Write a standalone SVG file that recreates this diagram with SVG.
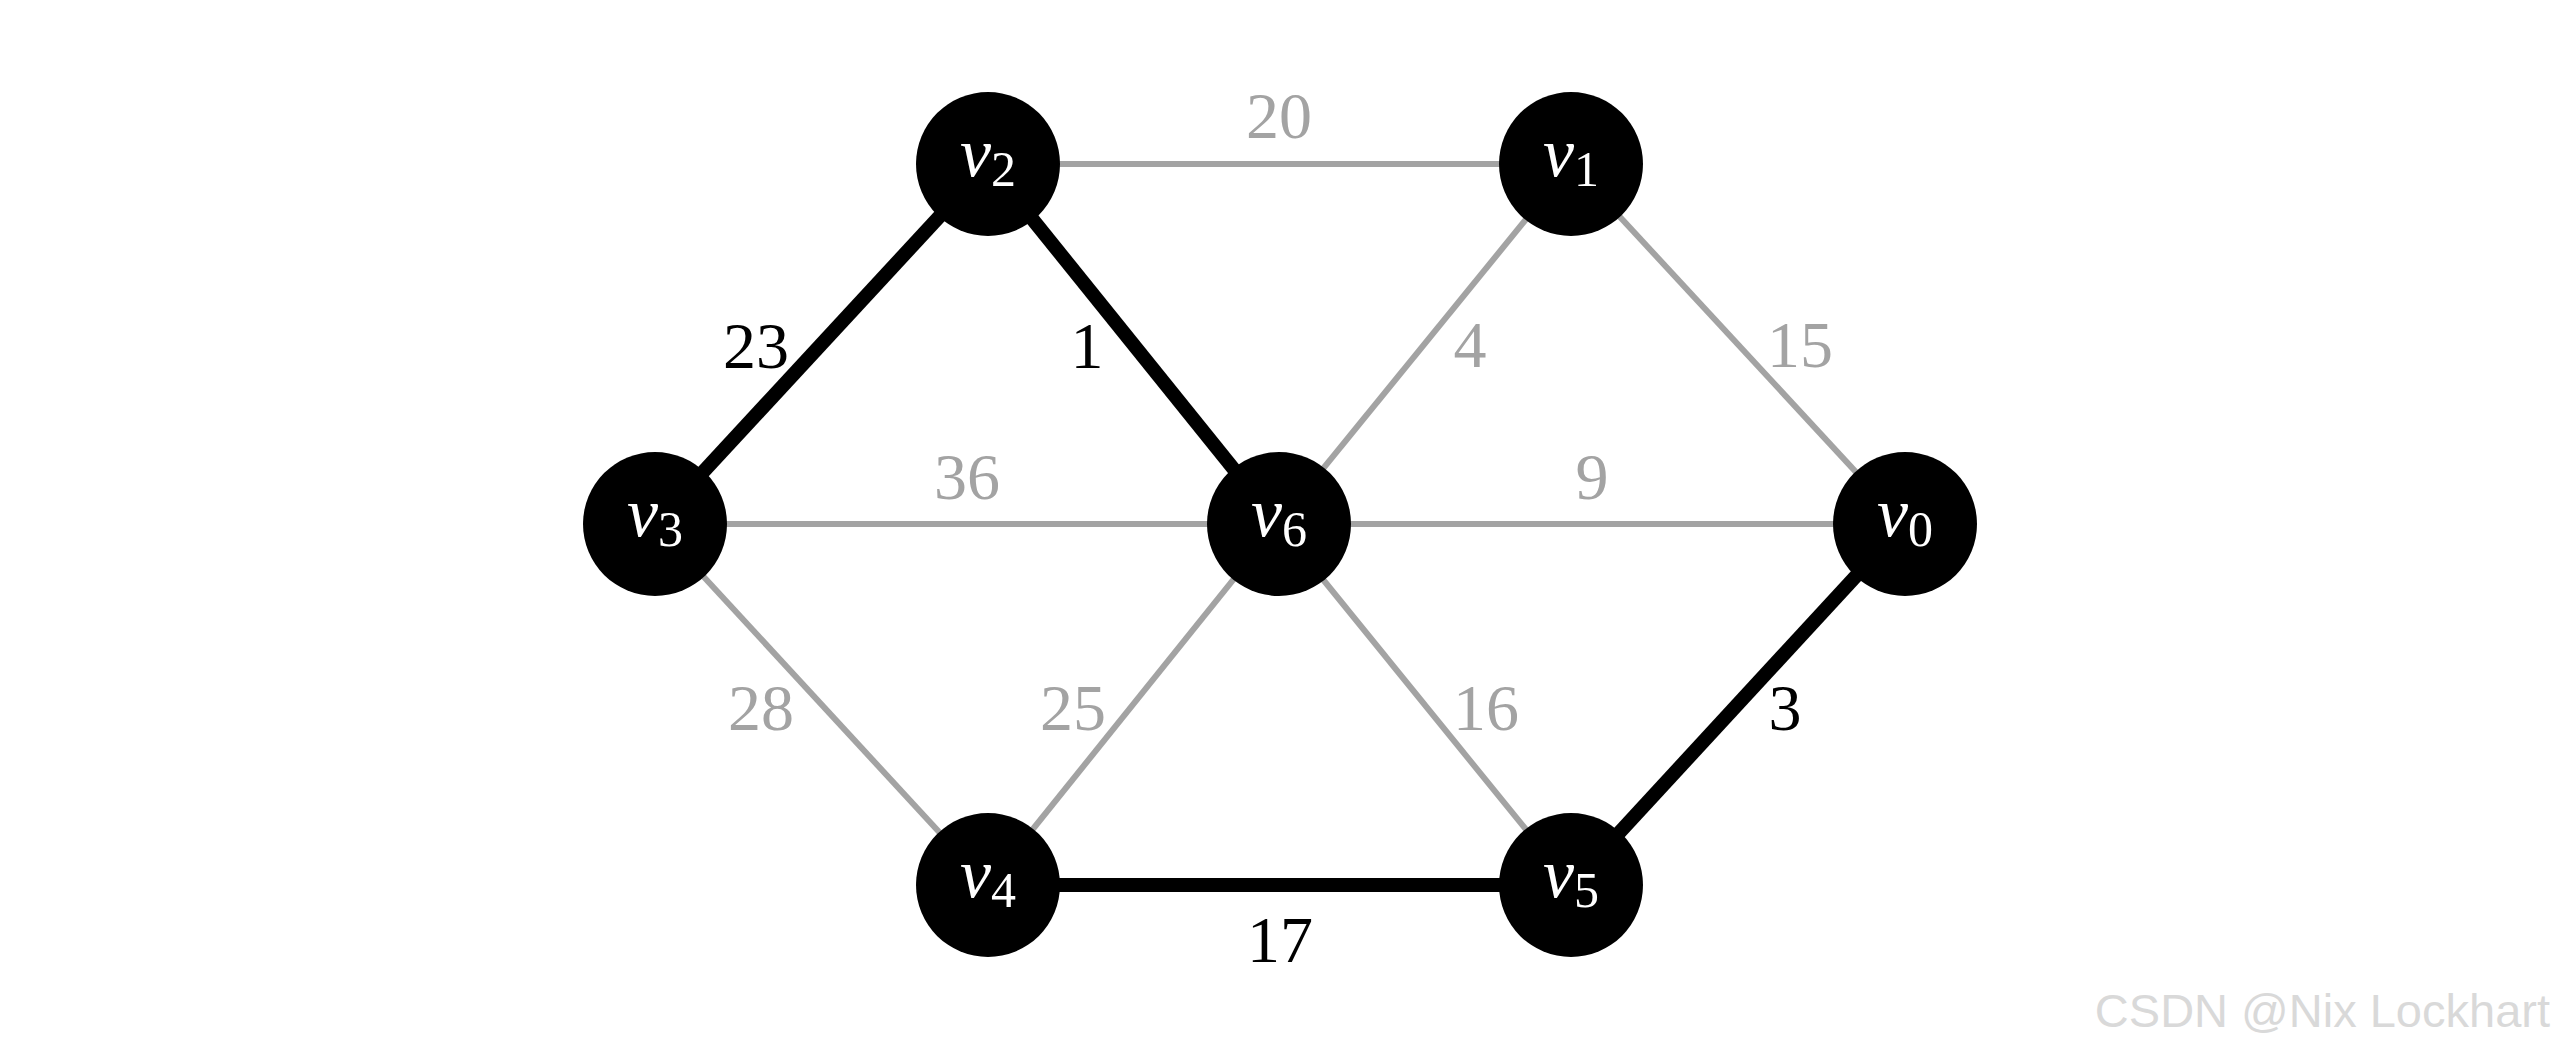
<svg xmlns="http://www.w3.org/2000/svg" width="2560" height="1053" viewBox="0 0 2560 1053">
<style>
.g{stroke:#a3a3a3;stroke-width:6;fill:none}
.b{stroke:#000;stroke-width:14;fill:none}
.node{fill:#000}
.nl{font-family:"Liberation Serif","DejaVu Serif",serif;font-size:70px;fill:#fff;text-anchor:middle}
.nl .v{font-style:italic}
.nl .s{font-size:50px}
.el{font-family:"Liberation Serif","DejaVu Serif",serif;font-size:66px;text-anchor:middle}
.lg{fill:#a3a3a3}
.lb{fill:#000}
</style>
<rect width="2560" height="1053" fill="#fff"/>
<g id="connectors">
<line class="g" x1="988" y1="164" x2="1571" y2="164"/>
<line class="b" x1="988" y1="164" x2="655" y2="524"/>
<line class="b" x1="988" y1="164" x2="1278" y2="524"/>
<line class="g" x1="1571" y1="164" x2="1278" y2="524"/>
<line class="g" x1="1571" y1="164" x2="1904" y2="524"/>
<line class="g" x1="655" y1="524" x2="1278" y2="524"/>
<line class="g" x1="1278" y1="524" x2="1904" y2="524"/>
<line class="g" x1="655" y1="524" x2="988" y2="885"/>
<line class="g" x1="988" y1="885" x2="1278" y2="524"/>
<line class="g" x1="1278" y1="524" x2="1571" y2="885"/>
<line class="b" x1="988" y1="885" x2="1571" y2="885"/>
<line class="b" x1="1571" y1="885" x2="1904" y2="524"/>
<text class="el lg" x="1279" y="138">20</text>
<text class="el lb" x="756" y="368">23</text>
<text class="el lb" x="1087" y="368">1</text>
<text class="el lg" x="1470" y="367">4</text>
<text class="el lg" x="1800" y="367">15</text>
<text class="el lg" x="967" y="499">36</text>
<text class="el lg" x="1592" y="499">9</text>
<text class="el lg" x="761" y="730">28</text>
<text class="el lg" x="1073" y="730">25</text>
<text class="el lg" x="1486" y="730">16</text>
<text class="el lb" x="1785" y="730">3</text>
<text class="el lb" x="1280" y="962">17</text>
</g>
<g id="v2"><circle class="node" cx="988" cy="164" r="72"/><text class="nl" x="988" y="176"><tspan class="v">v</tspan><tspan class="s" dy="10">2</tspan></text></g>
<g id="v1"><circle class="node" cx="1571" cy="164" r="72"/><text class="nl" x="1571" y="176"><tspan class="v">v</tspan><tspan class="s" dy="10">1</tspan></text></g>
<g id="v3"><circle class="node" cx="655" cy="524" r="72"/><text class="nl" x="655" y="536"><tspan class="v">v</tspan><tspan class="s" dy="10">3</tspan></text></g>
<g id="v6"><circle class="node" cx="1279" cy="524" r="72"/><text class="nl" x="1279" y="536"><tspan class="v">v</tspan><tspan class="s" dy="10">6</tspan></text></g>
<g id="v0"><circle class="node" cx="1905" cy="524" r="72"/><text class="nl" x="1905" y="536"><tspan class="v">v</tspan><tspan class="s" dy="10">0</tspan></text></g>
<g id="v4"><circle class="node" cx="988" cy="885" r="72"/><text class="nl" x="988" y="897"><tspan class="v">v</tspan><tspan class="s" dy="10">4</tspan></text></g>
<g id="v5"><circle class="node" cx="1571" cy="885" r="72"/><text class="nl" x="1571" y="897"><tspan class="v">v</tspan><tspan class="s" dy="10">5</tspan></text></g>
<text x="2550" y="1027" font-family="Liberation Sans, Arial, sans-serif" font-size="47" fill="#d9d9d9" text-anchor="end">CSDN @Nix Lockhart</text>
</svg>
